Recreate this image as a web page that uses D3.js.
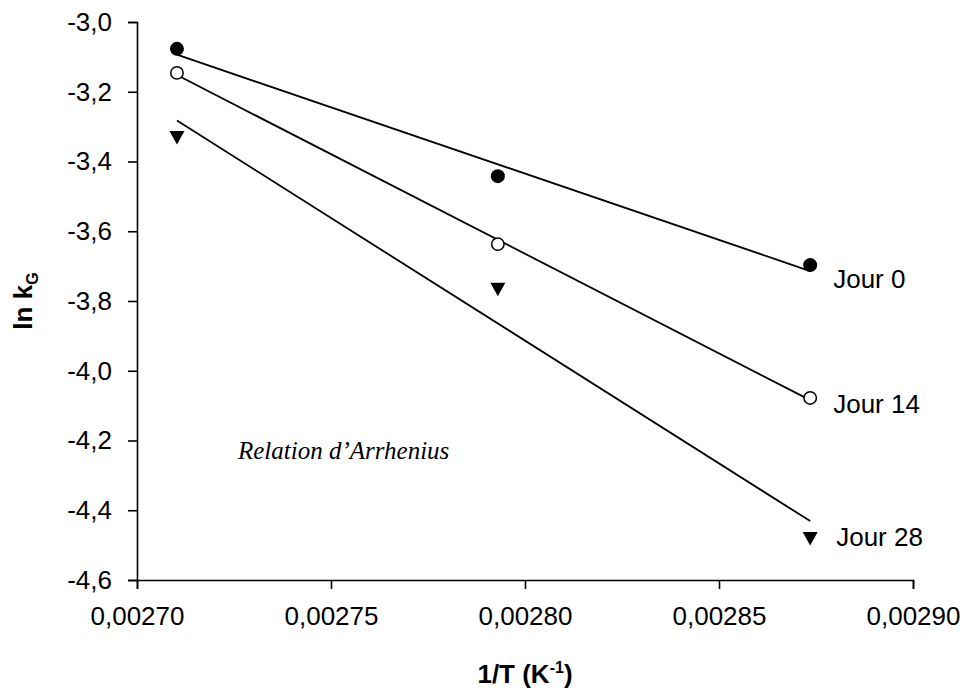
<!DOCTYPE html>
<html>
<head>
<meta charset="utf-8">
<script src="https://cdn.jsdelivr.net/npm/d3@7"></script>
<style>
  body { margin: 0; background: #fff; }
  text { font-family: "Liberation Sans", Arial, sans-serif; fill: #000; }
</style>
</head>
<body>
<svg id="chart" width="967" height="693"></svg>
<script>
// 1/T (K^-1)
var invT = [0.0027103, 0.0027930, 0.0028735]
  , jour0 = [-3.077, -3.442, -3.697]
  , jour14 = [-3.146, -3.637, -4.078]
  , jour28 = [-3.331, -3.766, -4.481]
  , seriesNames = ['Jour 0', 'Jour 14', 'Jour 28']
  , xTicks = [0.00270, 0.00275, 0.00280, 0.00285, 0.00290]
  , yTicks = [-3.0, -3.2, -3.4, -3.6, -3.8, -4.0, -4.2, -4.4, -4.6]

var svg = d3.select('svg#chart')
  , margin = {top: 22, right: 54, bottom: 113, left: 137}
  , width = +svg.attr('width') - margin.left - margin.right
  , height = +svg.attr('height') - margin.top - margin.bottom

var fr = d3.formatLocale({decimal: ',', thousands: ' ', grouping: [3], currency: ['', ''], minus: '-'})

var x = d3.scaleLinear().domain([0.00270, 0.00290]).range([0, width])
  , y = d3.scaleLinear().domain([-3.0, -4.6]).range([0, height])

var g = svg.append('g').attr('transform', 'translate(' + margin.left + ',' + margin.top + ')')

g.append('g').attr('transform', 'translate(0,' + height + ')')
  .call(d3.axisBottom(x).tickValues(xTicks).tickFormat(fr.format('.5f')).tickSize(9).tickPadding(18))
g.append('g')
  .call(d3.axisLeft(y).tickValues(yTicks).tickFormat(fr.format('.1f')).tickSize(9).tickPadding(16))

g.selectAll('.tick text').style('font-size', '26px')
g.selectAll('.domain, .tick line').attr('stroke', '#000').attr('stroke-width', 1.6)

// least squares trendline over the data
function fit(xs, ys) {
  var mx = d3.mean(xs), my = d3.mean(ys)
    , num = d3.sum(xs, function(v, i) { return (v - mx) * (ys[i] - my) })
    , den = d3.sum(xs, function(v) { return (v - mx) * (v - mx) })
    , b = num / den
  return function(v) { return my + b * (v - mx) }
}

var series = [
  {name: seriesNames[0], values: jour0, marker: 'filled', dx: 23, dy: 23},
  {name: seriesNames[1], values: jour14, marker: 'open', dx: 23, dy: 15},
  {name: seriesNames[2], values: jour28, marker: 'tri', dx: 26, dy: 8}
]

series.forEach(function(s) {
  var f = fit(invT, s.values)
    , x0 = d3.min(invT), x1 = d3.max(invT)
  g.append('line')
    .attr('x1', x(x0)).attr('y1', y(f(x0)))
    .attr('x2', x(x1)).attr('y2', y(f(x1)))
    .attr('stroke', '#000').attr('stroke-width', 1.8)

  var pts = g.selectAll(null).data(invT.map(function(v, i) { return [v, s.values[i]] }))
  if (s.marker === 'tri') {
    pts.enter().append('path')
      .attr('d', 'M-7.5,-6.5L7.5,-6.5L0,7z')
      .attr('transform', function(d) { return 'translate(' + x(d[0]) + ',' + y(d[1]) + ')' })
      .attr('fill', '#000')
  } else {
    pts.enter().append('circle')
      .attr('cx', function(d) { return x(d[0]) })
      .attr('cy', function(d) { return y(d[1]) })
      .attr('r', s.marker === 'filled' ? 7 : 6.2)
      .attr('fill', s.marker === 'filled' ? '#000' : '#fff')
      .attr('stroke', '#000').attr('stroke-width', s.marker === 'filled' ? 0 : 1.5)
  }

  var last = invT.length - 1
  g.append('text')
    .attr('x', x(invT[last]) + s.dx)
    .attr('y', y(s.values[last]) + s.dy)
    .style('font-size', '26px')
    .text(s.name)
})

// annotation
g.append('text')
  .attr('x', 101).attr('y', 437)
  .style('font-family', '"Liberation Serif", "Times New Roman", serif')
  .style('font-style', 'italic')
  .style('font-size', '25px')
  .text('Relation d\u2019Arrhenius')

// axis titles
var xt = svg.append('text')
  .attr('x', margin.left + width / 2).attr('y', 683)
  .attr('text-anchor', 'middle')
  .style('font-size', '26px').style('font-weight', 'bold')
xt.append('tspan').text('1/T (K')
xt.append('tspan').attr('dy', -10).style('font-size', '16px').text('-1')
xt.append('tspan').attr('dy', 10).text(')')

var yt = svg.append('text')
  .attr('transform', 'translate(32,' + (margin.top + height / 2) + ') rotate(-90)')
  .attr('text-anchor', 'middle')
  .style('font-size', '26px').style('font-weight', 'bold')
yt.append('tspan').text('ln k')
yt.append('tspan').attr('dy', 6).style('font-size', '16px').text('G')
</script>
</body>
</html>
